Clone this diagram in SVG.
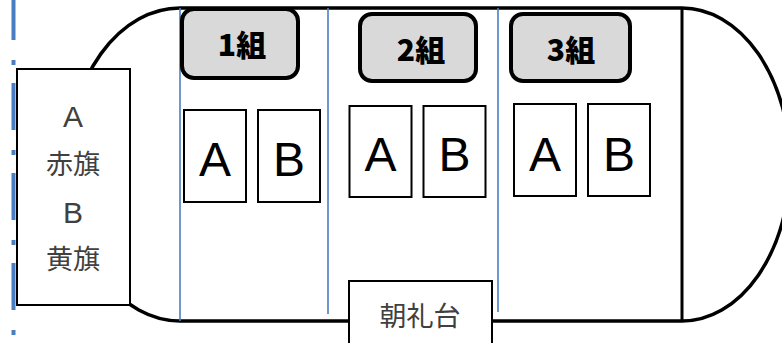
<svg xmlns="http://www.w3.org/2000/svg" width="782" height="343" viewBox="0 0 782 343">
<style>
.blue{stroke:#4A7EC2;stroke-width:1.6;fill:none}
.box{fill:#fff;stroke:#000;stroke-width:2}
.lbl{fill:#D9D9D9;stroke:#000;stroke-width:4}
.big{font-family:"Liberation Sans",Arial,sans-serif;font-size:48px;fill:#000;text-anchor:middle}
.grp{font-family:"Noto Sans CJK JP",sans-serif;font-weight:900;font-size:30px;fill:#000;text-anchor:middle}
.gray{font-family:"Noto Sans CJK JP","Liberation Sans",sans-serif;font-size:27px;fill:#404040;text-anchor:middle}
</style>
<rect width="782" height="343" fill="#fff"/>
<g id="dashline">
<line x1="13.5" y1="0" x2="13.5" y2="343" stroke="#4A7EC2" stroke-width="4" stroke-dasharray="47 20 5 18" stroke-dashoffset="7"/>
</g>
<g id="field">
<path d="M180,8 H682 A108,156.5 0 0 1 682,321 H180 A112,156.5 0 0 1 180,8 Z" fill="#fff" stroke="#000" stroke-width="3.5"/>
<line x1="682" y1="8" x2="682" y2="321" stroke="#000" stroke-width="3"/>
</g>
<g id="dividers">
<line class="blue" x1="180" y1="8" x2="180" y2="321"/>
<line class="blue" x1="328" y1="8" x2="328" y2="314"/>
<line class="blue" x1="498" y1="8" x2="498" y2="312"/>
</g>
<g id="flags">
<rect class="box" x="17" y="69" width="113" height="236"/>
<text class="gray" x="73" y="127" style="font-size:30px;font-family:'Liberation Sans',sans-serif">A</text>
<text class="gray" x="73" y="174">赤旗</text>
<text class="gray" x="73" y="223" style="font-size:30px;font-family:'Liberation Sans',sans-serif">B</text>
<text class="gray" x="73" y="269">黄旗</text>
</g>
<g id="group1">
<rect class="lbl" x="182" y="9" width="116" height="69" rx="12"/>
<text class="grp" x="242" y="56">1組</text>
<rect class="box" x="184" y="110" width="62" height="92"/>
<text class="big" x="215" y="176">A</text>
<rect class="box" x="258" y="110" width="62" height="92"/>
<text class="big" x="289" y="176">B</text>
</g>
<g id="group2">
<rect class="lbl" x="360" y="14" width="116" height="67" rx="12"/>
<text class="grp" x="421" y="61">2組</text>
<rect class="box" x="349.5" y="106" width="62" height="91"/>
<text class="big" x="380.5" y="171">A</text>
<rect class="box" x="423.5" y="106" width="62" height="91"/>
<text class="big" x="454.5" y="171">B</text>
</g>
<g id="group3">
<rect class="lbl" x="511" y="14" width="119" height="67" rx="12"/>
<text class="grp" x="571" y="61">3組</text>
<rect class="box" x="514" y="104" width="62" height="92"/>
<text class="big" x="545" y="171">A</text>
<rect class="box" x="588" y="104" width="62" height="92"/>
<text class="big" x="619" y="171">B</text>
</g>
<g id="stage">
<rect class="box" x="349" y="281" width="143" height="70"/>
<text class="gray" x="420" y="326">朝礼台</text>
</g>
</svg>
